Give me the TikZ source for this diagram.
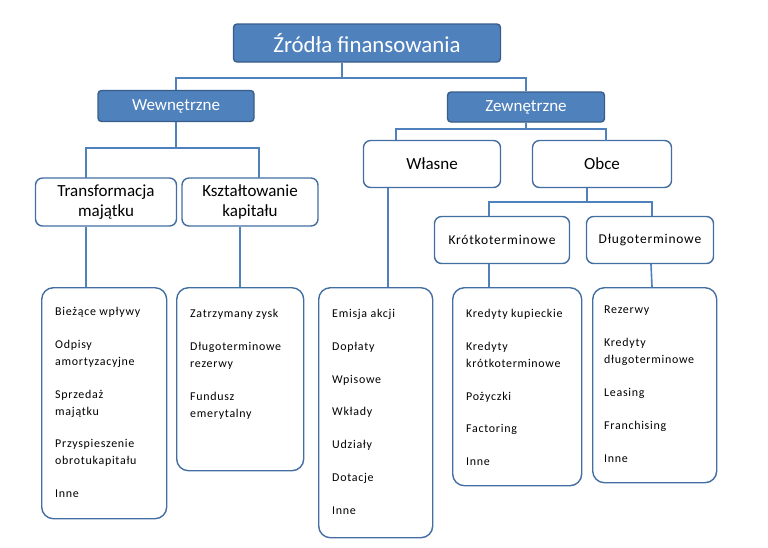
\documentclass[tikz,border=0pt]{standalone}
\usepackage{fontspec}
\setmainfont{Carlito}
\newfontfamily\listfont[LetterSpace=6]{Carlito}
\usetikzlibrary{positioning}
\definecolor{myblue}{RGB}{79,129,189}
\definecolor{mydark}{RGB}{56,93,138}
\begin{document}
\begin{tikzpicture}[x=0.03cm,y=-0.03cm,inner sep=0pt]
\tikzstyle{head}=[rectangle, rounded corners=3pt, fill=myblue, draw=mydark, line width=1.2pt, text=white]
\tikzstyle{box}=[rectangle, rounded corners=6pt, draw=myblue!85!black, line width=1.2pt, fill=white, align=center, font=\fontsize{14.5}{17}\selectfont]
\tikzstyle{sbox}=[box, font=\listfont\fontsize{11.5}{13}\selectfont]
\tikzstyle{lbox}=[rectangle, rounded corners=10pt, draw=myblue!85!black, line width=1.2pt, anchor=north west]
\tikzstyle{ltext}=[anchor=north west, align=left, font=\listfont\fontsize{10.2}{14.5}\selectfont]
\tikzstyle{conn}=[draw=myblue, line width=1.4pt]
\useasboundingbox (0,0) rectangle (768,547);
% main boxes
\node[head, minimum width=267*0.03cm, minimum height=38*0.03cm, font=\fontsize{19.5}{22}\selectfont] (zrodla) at (367,43) {Źródła finansowania};
\node[head, minimum width=156*0.03cm, minimum height=31*0.03cm, font=\fontsize{14.5}{17}\selectfont] (wew) at (176,106) {Wewnętrzne};
\node[head, minimum width=157*0.03cm, minimum height=30*0.03cm, font=\fontsize{14.5}{17}\selectfont] (zew) at (526,107) {Zewnętrzne};
\node[box, minimum width=141*0.03cm, minimum height=48*0.03cm] (trans) at (106,202) {Transformacja\\majątku};
\node[box, minimum width=136*0.03cm, minimum height=48*0.03cm] (ksztal) at (250,202) {Kształtowanie\\kapitału};
\node[box, minimum width=137*0.03cm, minimum height=47*0.03cm] (wlasne) at (432,164) {Własne};
\node[box, minimum width=139*0.03cm, minimum height=47*0.03cm] (obce) at (602,164) {Obce};
\node[sbox, minimum width=135*0.03cm, minimum height=47*0.03cm] (krotko) at (502,240) {Krótkoterminowe};
\node[sbox, minimum width=127*0.03cm, minimum height=47*0.03cm] (dlugo) at (650,240) {Długoterminowe};
% list boxes
\node[lbox, minimum width=125*0.03cm, minimum height=231*0.03cm] (l1) at (41,287) {};
\node[lbox, minimum width=127*0.03cm, minimum height=183*0.03cm] (l2) at (176,287) {};
\node[lbox, minimum width=114*0.03cm, minimum height=250*0.03cm] (l3) at (318,287) {};
\node[lbox, minimum width=129*0.03cm, minimum height=198*0.03cm] (l4) at (452,287) {};
\node[lbox, minimum width=124*0.03cm, minimum height=195*0.03cm] (l5) at (592,287) {};
\node[ltext] (t1) at ([shift={(14,20)}]l1.north west) {Bieżące wpływy\\[13.5pt]Odpisy\\amortyzacyjne\\[13.5pt]Sprzedaż\\majątku\\[13.5pt]Przyspieszenie\\obrotukapitału\\[13.5pt]Inne};
\node[ltext] (t2) at ([shift={(14,22)}]l2.north west) {Zatrzymany zysk\\[13.5pt]Długoterminowe\\rezerwy\\[13.5pt]Fundusz\\emerytalny};
\node[ltext] (t3) at ([shift={(14,22)}]l3.north west) {Emisja akcji\\[13.5pt]Dopłaty\\[13.5pt]Wpisowe\\[13.5pt]Wkłady\\[13.5pt]Udziały\\[13.5pt]Dotacje\\[13.5pt]Inne};
\node[ltext] (t4) at ([shift={(14,22)}]l4.north west) {Kredyty kupieckie\\[13.5pt]Kredyty\\krótkoterminowe\\[13.5pt]Pożyczki\\[13.5pt]Factoring\\[13.5pt]Inne};
\node[ltext] (t5) at ([shift={(12,19)}]l5.north west) {Rezerwy\\[13.5pt]Kredyty\\długoterminowe\\[13.5pt]Leasing\\[13.5pt]Franchising\\[13.5pt]Inne};
% connectors
\coordinate (j1) at (342,78);
\coordinate (j2) at (176,148);
\coordinate (j3) at (526,129);
\coordinate (j4) at (587,202);
\draw[conn] (zrodla.south -| j1) -- (j1) -| (wew.north);
\draw[conn] (j1) -| (zew.north);
\draw[conn] (wew.south) -- (j2) -| (86,178);
\draw[conn] (j2) -| (259,178);
\draw[conn] (zew.south) -- (j3) -| (396,140);
\draw[conn] (j3) -| (606,141);
\draw[conn] (obce.south -| j4) -- (j4) -| (489,216);
\draw[conn] (j4) -| (652,216);
\draw[conn] (trans.south -| 86,0) -- (l1.north -| 86,0);
\draw[conn] (ksztal.south -| 240,0) -- (l2.north -| 240,0);
\draw[conn] (wlasne.south -| 388,0) -- (l3.north -| 388,0);
\draw[conn] (krotko.south -| 489,0) -- (l4.north -| 489,0);
\draw[conn] (dlugo.south -| 651,0) -- (l5.north -| 652,0);
\end{tikzpicture}
\end{document}
